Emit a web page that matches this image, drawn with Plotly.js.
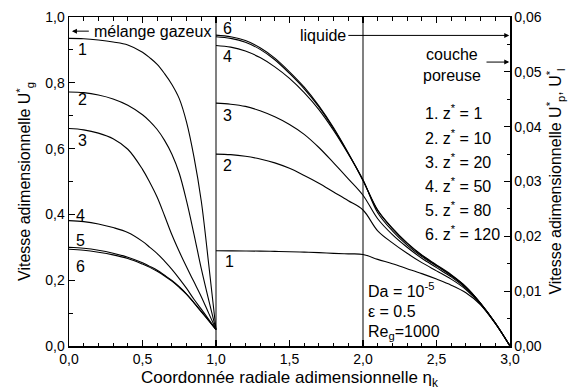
<!DOCTYPE html>
<html>
<head>
<meta charset="utf-8">
<script src="https://cdn.plot.ly/plotly-3.0.1.min.js"></script>
<style>html,body{margin:0;padding:0;background:#fff;}#chart{width:576px;height:390px;}</style>
</head>
<body>
<div id="chart"></div>
<script>
// ---- data ----
const xGas = [0, 0.1, 0.2, 0.3, 0.4, 0.5, 0.55, 0.6, 0.65, 0.7, 0.75, 0.8, 0.85, 0.9, 0.95, 1.0];
const gas1 = [0.935, 0.934, 0.930, 0.924, 0.915, 0.893, 0.876, 0.856, 0.828, 0.795, 0.752, 0.680, 0.575, 0.440, 0.250, 0.050];
const gas2 = [0.772, 0.770, 0.763, 0.751, 0.732, 0.703, 0.683, 0.658, 0.625, 0.583, 0.525, 0.440, 0.340, 0.235, 0.140, 0.050];
const gas3 = [0.661, 0.657, 0.647, 0.630, 0.598, 0.537, 0.497, 0.452, 0.396, 0.338, 0.287, 0.240, 0.195, 0.150, 0.100, 0.050];
const gas4 = [0.381, 0.378, 0.371, 0.360, 0.345, 0.318, 0.300, 0.281, 0.258, 0.233, 0.205, 0.175, 0.142, 0.112, 0.081, 0.050];
const gas5 = [0.300, 0.297, 0.291, 0.282, 0.270, 0.253, 0.242, 0.230, 0.215, 0.199, 0.180, 0.158, 0.132, 0.105, 0.078, 0.050];
const gas6 = [0.294, 0.291, 0.285, 0.277, 0.266, 0.249, 0.239, 0.227, 0.213, 0.197, 0.178, 0.157, 0.131, 0.104, 0.077, 0.050];

const xLiqPor = [1.0, 1.1, 1.2, 1.3, 1.4, 1.5, 1.6, 1.7, 1.8, 1.9, 2.0, 2.1, 2.2, 2.3, 2.4, 2.5, 2.6, 2.7, 2.8, 2.9, 3.0];
const lp1 = [0.01736, 0.01735, 0.01733, 0.0173, 0.01725, 0.0172, 0.01712, 0.01703, 0.0169, 0.0168, 0.0167, 0.0158, 0.0150, 0.0141, 0.0132, 0.0122, 0.0111, 0.0097, 0.0075, 0.0041, 0];
const lp2 = [0.0350, 0.0349, 0.0346, 0.0341, 0.0334, 0.0324, 0.0311, 0.0297, 0.0281, 0.0265, 0.0248, 0.0210, 0.0188, 0.0169, 0.0152, 0.0137, 0.0122, 0.0103, 0.0076, 0.0041, 0];
const lp3 = [0.0443, 0.0441, 0.0437, 0.0429, 0.0418, 0.0404, 0.0386, 0.0362, 0.0334, 0.0305, 0.0275, 0.0232, 0.0203, 0.0180, 0.0160, 0.0143, 0.0126, 0.0105, 0.0077, 0.0042, 0];
const lp4 = [0.0548, 0.0545, 0.0538, 0.0526, 0.0509, 0.0488, 0.0462, 0.0431, 0.0393, 0.0350, 0.0303, 0.0243, 0.0210, 0.0184, 0.0163, 0.0146, 0.0128, 0.0107, 0.0078, 0.0042, 0];
const lp5 = [0.0564, 0.0561, 0.0554, 0.0541, 0.0522, 0.0497, 0.0469, 0.0436, 0.0396, 0.0351, 0.0302, 0.0247, 0.0214, 0.0187, 0.0165, 0.0147, 0.0129, 0.0108, 0.0078, 0.0042, 0];
const lp6 = [0.0567, 0.0564, 0.0557, 0.0544, 0.0525, 0.0500, 0.0472, 0.0438, 0.0398, 0.0352, 0.0302, 0.0248, 0.0215, 0.0188, 0.0166, 0.0148, 0.0130, 0.0108, 0.0078, 0.0042, 0];

const legendLines = ["1. z<sup>*</sup> = 1", "2. z<sup>*</sup> = 10", "3. z<sup>*</sup> = 20", "4. z<sup>*</sup> = 50", "5. z<sup>*</sup> = 80", "6. z<sup>*</sup> = 120"];
const paramLines = ["Da = 10<sup>-5</sup>", "ε = 0.5", "Re<sub>g</sub>=1000"];

// ---- traces ----
const F = "Liberation Sans, Arial, sans-serif";
const lineStyle = {color: "#000", width: 1.1, shape: "spline", smoothing: 1};
const traces = [];
[gas1, gas2, gas3, gas4, gas5, gas6].forEach(g => traces.push({x: xGas, y: g, type: "scatter", mode: "lines", line: lineStyle, yaxis: "y", hoverinfo: "skip"}));
[lp1, lp2, lp3, lp4, lp5, lp6].forEach(v => traces.push({x: xLiqPor, y: v, type: "scatter", mode: "lines", line: lineStyle, yaxis: "y2", hoverinfo: "skip"}));

// ---- annotations ----
const ann = [];
function txt(t, x, y, xanchor, size) {
  ann.push({text: t, x: x, y: y, xref: "x", yref: "y", showarrow: false, xanchor: xanchor || "center", yanchor: "middle", font: {family: F, size: size || 16, color: "#000"}});
}
txt("mélange gazeux", 0.57, 0.957);
txt("liquide", 1.73, 0.945);
txt("couche<br>poreuse", 2.605, 0.855);
// curve number labels
[["1", 0.09, 0.901], ["2", 0.09, 0.75], ["3", 0.09, 0.626], ["4", 0.078, 0.398], ["5", 0.078, 0.32], ["6", 0.078, 0.243],
 ["6", 1.075, 0.965], ["4", 1.075, 0.879], ["3", 1.075, 0.701], ["2", 1.075, 0.55], ["1", 1.092, 0.256]].forEach(l => txt(l[0], l[1], l[2]));
const legY = [0.711, 0.635, 0.562, 0.489, 0.416, 0.343];
legendLines.forEach((t, i) => txt(t, 2.408, legY[i], "left"));
const parY = [0.170, 0.104, 0.040];
paramLines.forEach((t, i) => txt(t, 2.021, parY[i], "left"));
// arrows
function arrow(x0, x1, y) {
  ann.push({text: "", x: x1, y: y, ax: x0, ay: y, xref: "x", yref: "y", axref: "x", ayref: "y", showarrow: true, arrowhead: 2, arrowsize: 1, arrowwidth: 1, arrowcolor: "#000", standoff: 0, startstandoff: 0});
}
arrow(0.145, 0.02, 0.957);
arrow(1.89, 2.995, 0.944);
arrow(2.83, 2.995, 0.863);

const axisCommon = {
  showgrid: false, zeroline: false, showline: true, linecolor: "#000", linewidth: 1.5,
  ticks: "inside", ticklen: 6, tickwidth: 1.2, tickcolor: "#000",
  tickfont: {family: F, size: 14, color: "#000"}
};

const layout = {
  width: 576, height: 390,
  margin: {l: 69, r: 66, t: 17, b: 44},
  paper_bgcolor: "#fff", plot_bgcolor: "#fff",
  showlegend: false,
  separators: ",.",
  xaxis: Object.assign({}, axisCommon, {
    range: [0, 3], tickvals: [0, 0.5, 1, 1.5, 2, 2.5, 3], tickformat: ".1f", mirror: "ticks",
    minor: {dtick: 0.1, ticks: "inside", ticklen: 3.5, tickwidth: 1, tickcolor: "#000"},
    title: {text: "Coordonnée radiale adimensionnelle η<sub>k</sub>", font: {family: F, size: 17, color: "#000"}, standoff: 6}
  }),
  yaxis: Object.assign({}, axisCommon, {
    range: [0, 1.0], tickvals: [0, 0.2, 0.4, 0.6, 0.8, 1.0], tickformat: ".1f",
    minor: {dtick: 0.1, ticks: "inside", ticklen: 3.5, tickwidth: 1, tickcolor: "#000"},
    title: {text: "Vitesse adimensionnelle U<sup>*</sup><sub>g</sub>", font: {family: F, size: 16, color: "#000"}, standoff: 10}
  }),
  yaxis2: Object.assign({}, axisCommon, {
    range: [0, 0.06], tickvals: [0, 0.01, 0.02, 0.03, 0.04, 0.05, 0.06], tickformat: ".2f",
    overlaying: "y", side: "right",
    minor: {dtick: 0.005, ticks: "inside", ticklen: 3.5, tickwidth: 1, tickcolor: "#000"},
    title: {text: "Vitesse adimensionnelle U<sup>*</sup><sub>p</sub>, U<sup>*</sup><sub>l</sub>", font: {family: F, size: 16, color: "#000"}, standoff: 9}
  }),
  shapes: [1, 2].map(v => ({type: "line", xref: "x", yref: "paper", x0: v, x1: v, y0: 0, y1: 1, line: {color: "#808080", width: 2}, layer: "below"})),
  annotations: ann
};

Plotly.newPlot("chart", traces, layout, {staticPlot: true, displayModeBar: false});
</script>
</body>
</html>
